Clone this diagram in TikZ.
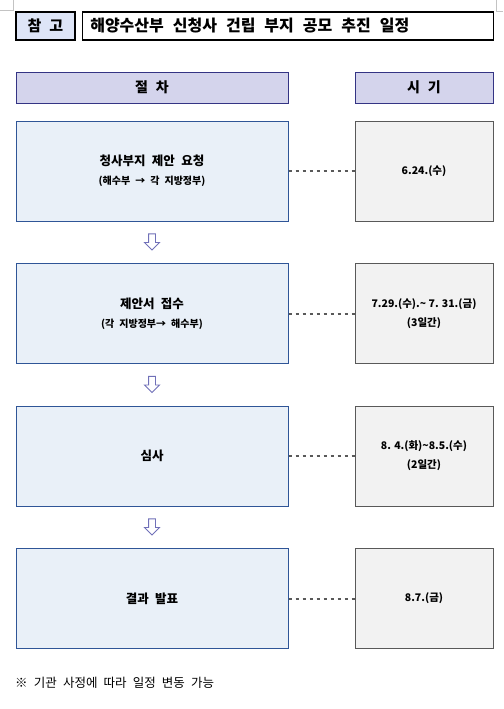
\documentclass[tikz,border=0pt]{standalone}
\usepackage{fontspec}
\setmainfont{Noto Sans CJK KR}
\newfontfamily\notefont[WordSpace=2.4]{Noto Sans CJK KR}
\newfontfamily\boxfont[WordSpace=2.2]{Noto Sans CJK KR}
\newcommand{\tl}{{\char"7E}}
\newcommand{\widesp}{\spaceskip=9pt plus 1pt\relax}
\usetikzlibrary{positioning, shapes.arrows, calc}
\definecolor{tagblue}{RGB}{222,229,247}
\definecolor{headfill}{RGB}{212,212,236}
\definecolor{headline}{RGB}{52,52,132}
\definecolor{stepfill}{RGB}{233,240,248}
\definecolor{stepline}{RGB}{47,85,151}
\definecolor{datefill}{RGB}{242,242,242}
\definecolor{dateline}{RGB}{89,89,89}
\definecolor{flowline}{RGB}{112,112,184}
\definecolor{markgray}{RGB}{195,195,195}

\begin{document}
\begin{tikzpicture}[
  x=1pt, y=-1pt,
  tag/.style={draw=black, line width=1.3pt, fill=tagblue, inner sep=0pt,
              minimum width=59pt, minimum height=28pt,
              font=\bfseries\fontsize{15}{18}\selectfont},
  titlebox/.style={draw=black, line width=1.3pt, fill=white, inner xsep=8pt,
                   text width=395pt, align=left, minimum height=28pt,
                   font=\bfseries\fontsize{16}{18}\selectfont},
  head/.style={draw=headline, line width=1pt, fill=headfill, inner sep=0pt,
               minimum height=31pt, font=\bfseries\fontsize{14}{16}\selectfont},
  stepbox/.style={draw=stepline, line width=1pt, fill=stepfill, inner sep=0pt,
                  minimum width=272pt, minimum height=100pt, align=center,
                  font=\boxfont\bfseries\fontsize{12.5}{19}\selectfont},
  datebox/.style={draw=dateline, line width=1pt, fill=datefill, inner sep=0pt,
                  minimum width=138pt, minimum height=100pt, align=center,
                  font=\bfseries\fontsize{10.5}{19}\selectfont},
  dotline/.style={dateline, line width=2pt, dash pattern=on 3pt off 4pt},
  flowarrow/.style={single arrow, draw=flowline, fill=white, line width=0.9pt,
                    shape border rotate=270, inner sep=3pt,
                    minimum height=16pt, single arrow head extend=4pt},
  note/.style={font=\notefont\fontsize{12.5}{15}\selectfont, inner sep=0pt},
]
\useasboundingbox (0,0) rectangle (503,709);

%% page corner marks
\draw[markgray, line width=0.8pt] (13,0) -- (13,10.5) -- (0,10.5);
\draw[markgray, line width=0.8pt] (496,0) -- (496,11) -- (503,11);

%% title bar
\node[tag] (tag) at (45.5,26) {참\hspace{8pt}고};
\node[titlebox, right=6pt of tag] (title) {\widesp 해양수산부 신청사 건립 부지 공모 추진 일정};

%% column heads
\node[head, minimum width=272pt] (h1) at (152,87.5) {절\hspace{8pt}차};
\node[head, minimum width=138pt, right=66pt of h1] (h2) {시\hspace{8pt}기};

%% steps
\node[stepbox, below=17pt of h1] (s1) {청사부지 제안 요청\\{\fontsize{10}{19}\selectfont (해수부 → 각 지방정부)}};
\node[stepbox, below=41.5pt of s1] (s2) {제안서 접수\\{\fontsize{10}{19}\selectfont (각 지방정부→ 해수부)}};
\node[stepbox, below=41.5pt of s2] (s3) {심사};
\node[stepbox, below=41.5pt of s3] (s4) {결과 발표};

%% dates
\node[datebox, right=66pt of s1] (d1) {6.24.(수)};
\node[datebox, right=66pt of s2] (d2) {7.29.(수).\tl\ 7. 31.(금)\\(3일간)};
\node[datebox, right=66pt of s3] (d3) {8. 4.(화)\tl 8.5.(수)\\(2일간)};
\node[datebox, right=66pt of s4] (d4) {8.7.(금)};

\foreach \i in {1,...,4}
  \draw[dotline] (s\i.east) -- (d\i.west);

%% flow arrows
\node[flowarrow] (a1) at ($(s1.south)!0.45!(s2.north)$) {};
\node[flowarrow] (a2) at ($(s2.south)!0.45!(s3.north)$) {};
\node[flowarrow] (a3) at ($(s3.south)!0.45!(s4.north)$) {};

%% footnote
\node[note, anchor=west] (note) at (15,683) {※ 기관 사정에 따라 일정 변동 가능};

\end{tikzpicture}
\end{document}
